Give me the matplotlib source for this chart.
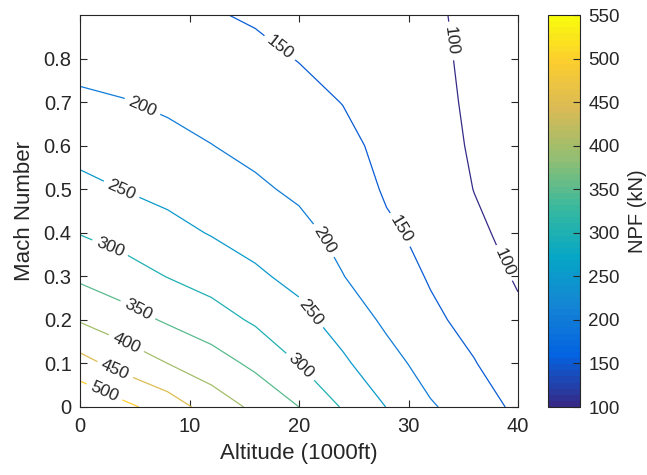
import numpy as np
import matplotlib
matplotlib.use('Agg')
import matplotlib.pyplot as plt
from matplotlib.colors import LinearSegmentedColormap, Normalize
from matplotlib.ticker import FuncFormatter

plt.rcParams['font.family'] = ['Liberation Sans', 'DejaVu Sans']

# grid: altitude (1000 ft) and Mach number
altitude = [0, 4, 8, 12, 16, 20, 24, 28, 32, 36, 40]
mach = [0.0, 0.1, 0.2, 0.3, 0.4, 0.5, 0.6, 0.7, 0.8, 0.9]

# net propulsive force (kN), one list per altitude, mach 0 -> 0.9
npf_0k = [548, 467.5, 396, 341, 298, 263, 234, 208.5, 185, 170]
npf_4k = [512, 431, 370, 320.5, 282, 249, 225.5, 202, 180, 162]
npf_8k = [477, 400, 344, 298.6, 264.6, 237, 214.5, 192, 172, 157]
npf_12k = [428, 372.6, 320.6, 280.6, 247.2, 224, 200.7, 184.7, 168.9, 153]
npf_16k = [390, 339.3, 293.3, 258.1, 231.2, 206.8, 189.4, 174.8, 160.1, 145.5]
npf_20k = [350, 299, 265.3, 236.1, 212, 192.6, 177.9, 163.2, 148.5, 135]
npf_24k = [296, 258.3, 228.3, 201.1, 187.6, 174.7, 161.9, 149, 137, 124]
npf_28k = [249, 216.7, 191.4, 174.1, 156.9, 145, 138, 130, 122, 114]
npf_32k = [204.5, 181.8, 159, 146, 139, 132, 125, 118, 111, 104]
npf_36k = [179, 152, 136, 123, 110, 99, 93, 90, 90, 94]
npf_40k = [138, 123, 109, 95, 84, 78, 74, 71, 69, 68]

levels = [100, 150, 200, 250, 300, 350, 400, 450, 500, 550]

# where the inline labels go (alt, mach)
label_spots = [(18.1, 0.82), (5.6, 0.684), (3.8, 0.5), (2.6, 0.357), (5.2, 0.219),
               (4.2, 0.145), (3.2, 0.085), (2.2, 0.032), (21.6, 0.373), (20.7, 0.21),
               (20.1, 0.092), (28.6, 0.396), (33.8, 0.84), (38.4, 0.327)]

# parula-like colormap
parula_pts = [(0.2081, 0.1663, 0.5292), (0.0117, 0.3875, 0.8820), (0.0793, 0.5200, 0.8312),
              (0.0228, 0.6535, 0.7768), (0.2178, 0.7250, 0.6193), (0.5709, 0.7485, 0.4494),
              (0.8507, 0.7299, 0.3360), (0.9880, 0.8066, 0.1794), (0.9763, 0.9831, 0.0538)]
pos = [0, 8/63, 16/63, 24/63, 32/63, 40/63, 48/63, 56/63, 1]
parula = LinearSegmentedColormap.from_list('parula', list(zip(pos, parula_pts)), N=64)

grey = '#262626'
Z = np.array([npf_0k, npf_4k, npf_8k, npf_12k, npf_16k, npf_20k, npf_24k,
              npf_28k, npf_32k, npf_36k, npf_40k]).T
norm = Normalize(vmin=100, vmax=550)

fig = plt.figure(figsize=(6.47, 4.75), dpi=100)
ax = fig.add_axes([80/647, 68/475, 438/647, 392/475])
cs = ax.contour(altitude, mach, Z, levels=levels, cmap=parula, norm=norm, linewidths=0.9)
ax.clabel(cs, inline=True, fontsize=12.5, colors=grey, manual=label_spots, inline_spacing=5)

ax.set_xlim(0, 40)
ax.set_ylim(0, 0.9)
ax.set_xticks([0, 10, 20, 30, 40])
ax.set_yticks(np.arange(0, 0.85, 0.1))
ax.yaxis.set_major_formatter(FuncFormatter(lambda v, p: '0' if abs(v) < 1e-9 else f'{v:.1f}'))
ax.tick_params(direction='in', length=5, labelsize=14.5, colors=grey, top=True, right=True, pad=7)
ax.tick_params(axis='y', pad=6)
for s in ax.spines.values():
    s.set_color(grey)
    s.set_linewidth(0.8)
ax.set_xlabel('Altitude (1000ft)', fontsize=16, color=grey, labelpad=5)
ax.set_ylabel('Mach Number', fontsize=16, color=grey, labelpad=6)

cax = fig.add_axes([548/647, 68/475, 32/647, 392/475])
sm = plt.cm.ScalarMappable(norm=norm, cmap=parula)
cb = fig.colorbar(sm, cax=cax, ticks=levels)
cb.outline.set_edgecolor(grey)
cb.outline.set_linewidth(0.8)
cax.tick_params(direction='in', length=5, labelsize=13.5, colors=grey, pad=6)
cb.set_label('NPF (kN)', fontsize=14.5, color=grey, labelpad=6)

fig.savefig('out.png', dpi=100)
